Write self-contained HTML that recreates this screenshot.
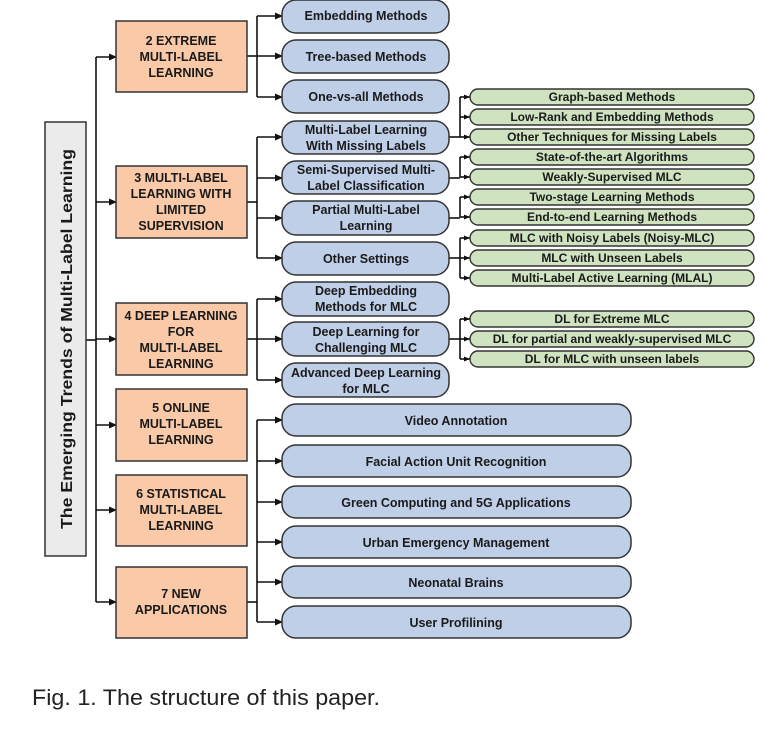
<!DOCTYPE html>
<html><head><meta charset="utf-8"><style>
html,body{margin:0;padding:0;background:#fff;}
svg{display:block;}
text{font-family:"Liberation Sans",Arial,sans-serif;font-weight:bold;fill:#1a1a1a;}
</style></head><body>
<svg width="764" height="731" viewBox="0 0 764 731" xmlns="http://www.w3.org/2000/svg">
<defs>
<marker id="a" markerWidth="8" markerHeight="8" refX="7" refY="4" orient="auto" markerUnits="userSpaceOnUse">
<path d="M0,0.5 L8,4 L0,7.5 z" fill="#111"/></marker>
<marker id="b" markerWidth="6" markerHeight="6" refX="6" refY="3" orient="auto" markerUnits="userSpaceOnUse">
<path d="M0,0.5 L6,3 L0,5.5 z" fill="#111"/></marker>
</defs>
<g stroke="#111" stroke-width="1.6" fill="none">
<!-- root -->
<line x1="86" y1="340" x2="96" y2="340"/>
<line x1="96" y1="57" x2="96" y2="602"/>
<line x1="96" y1="57" x2="116" y2="57" marker-end="url(#a)"/>
<line x1="96" y1="202" x2="116" y2="202" marker-end="url(#a)"/>
<line x1="96" y1="339" x2="116" y2="339" marker-end="url(#a)"/>
<line x1="96" y1="425" x2="116" y2="425" marker-end="url(#a)"/>
<line x1="96" y1="510" x2="116" y2="510" marker-end="url(#a)"/>
<line x1="96" y1="602" x2="116" y2="602" marker-end="url(#a)"/>
<!-- sec2 -->
<line x1="247" y1="56" x2="257" y2="56"/>
<line x1="257" y1="16" x2="257" y2="97"/>
<line x1="257" y1="16" x2="282" y2="16" marker-end="url(#a)"/>
<line x1="257" y1="56" x2="282" y2="56" marker-end="url(#a)"/>
<line x1="257" y1="97" x2="282" y2="97" marker-end="url(#a)"/>
<!-- sec3 -->
<line x1="247" y1="202" x2="257" y2="202"/>
<line x1="257" y1="137" x2="257" y2="258"/>
<line x1="257" y1="137" x2="282" y2="137" marker-end="url(#a)"/>
<line x1="257" y1="178" x2="282" y2="178" marker-end="url(#a)"/>
<line x1="257" y1="218" x2="282" y2="218" marker-end="url(#a)"/>
<line x1="257" y1="258" x2="282" y2="258" marker-end="url(#a)"/>
<!-- sec4 -->
<line x1="247" y1="339" x2="257" y2="339"/>
<line x1="257" y1="299" x2="257" y2="380"/>
<line x1="257" y1="299" x2="282" y2="299" marker-end="url(#a)"/>
<line x1="257" y1="339" x2="282" y2="339" marker-end="url(#a)"/>
<line x1="257" y1="380" x2="282" y2="380" marker-end="url(#a)"/>
<!-- sec7 -->
<line x1="247" y1="602" x2="257" y2="602"/>
<line x1="257" y1="420" x2="257" y2="622"/>
<line x1="257" y1="420" x2="282" y2="420" marker-end="url(#a)"/>
<line x1="257" y1="461" x2="282" y2="461" marker-end="url(#a)"/>
<line x1="257" y1="502" x2="282" y2="502" marker-end="url(#a)"/>
<line x1="257" y1="542" x2="282" y2="542" marker-end="url(#a)"/>
<line x1="257" y1="582" x2="282" y2="582" marker-end="url(#a)"/>
<line x1="257" y1="622" x2="282" y2="622" marker-end="url(#a)"/>
<!-- green connectors -->
<line x1="449" y1="137" x2="460" y2="137"/>
<line x1="460" y1="97" x2="460" y2="137"/>
<line x1="460" y1="97" x2="470" y2="97" marker-end="url(#b)"/>
<line x1="460" y1="117" x2="470" y2="117" marker-end="url(#b)"/>
<line x1="460" y1="137" x2="470" y2="137" marker-end="url(#b)"/>
<line x1="449" y1="178" x2="460" y2="178"/>
<line x1="460" y1="157" x2="460" y2="177"/>
<line x1="460" y1="157" x2="470" y2="157" marker-end="url(#b)"/>
<line x1="460" y1="177" x2="470" y2="177" marker-end="url(#b)"/>
<line x1="449" y1="218" x2="460" y2="218"/>
<line x1="460" y1="197" x2="460" y2="217"/>
<line x1="460" y1="197" x2="470" y2="197" marker-end="url(#b)"/>
<line x1="460" y1="217" x2="470" y2="217" marker-end="url(#b)"/>
<line x1="449" y1="258" x2="460" y2="258"/>
<line x1="460" y1="238" x2="460" y2="278"/>
<line x1="460" y1="238" x2="470" y2="238" marker-end="url(#b)"/>
<line x1="460" y1="258" x2="470" y2="258" marker-end="url(#b)"/>
<line x1="460" y1="278" x2="470" y2="278" marker-end="url(#b)"/>
<line x1="449" y1="339" x2="460" y2="339"/>
<line x1="460" y1="319" x2="460" y2="359"/>
<line x1="460" y1="319" x2="470" y2="319" marker-end="url(#b)"/>
<line x1="460" y1="339" x2="470" y2="339" marker-end="url(#b)"/>
<line x1="460" y1="359" x2="470" y2="359" marker-end="url(#b)"/>
</g>
<!-- root box -->
<rect x="45" y="122" width="41" height="434" fill="#ebebeb" stroke="#333" stroke-width="1.5"/>
<text transform="translate(72,339) rotate(-90)" text-anchor="middle" font-size="16" textLength="380" lengthAdjust="spacingAndGlyphs">The Emerging Trends of Multi-Label Learning</text>
<!-- orange -->
<g fill="#f9c9a8" stroke="#333" stroke-width="1.5">
<rect x="116" y="21" width="131" height="71"/>
<rect x="116" y="166" width="131" height="72"/>
<rect x="116" y="303" width="131" height="72"/>
<rect x="116" y="389" width="131" height="72"/>
<rect x="116" y="475" width="131" height="71"/>
<rect x="116" y="567" width="131" height="71"/>
</g>
<g font-size="12.5" text-anchor="middle">
<text x="181" y="45">2 EXTREME</text><text x="181" y="61">MULTI-LABEL</text><text x="181" y="77">LEARNING</text>
<text x="181" y="182">3 MULTI-LABEL</text><text x="181" y="198">LEARNING WITH</text><text x="181" y="214">LIMITED</text><text x="181" y="230">SUPERVISION</text>
<text x="181" y="320">4 DEEP LEARNING</text><text x="181" y="336">FOR</text><text x="181" y="352">MULTI-LABEL</text><text x="181" y="368">LEARNING</text>
<text x="181" y="412">5 ONLINE</text><text x="181" y="428">MULTI-LABEL</text><text x="181" y="444">LEARNING</text>
<text x="181" y="498">6 STATISTICAL</text><text x="181" y="514">MULTI-LABEL</text><text x="181" y="530">LEARNING</text>
<text x="181" y="598">7 NEW</text><text x="181" y="614">APPLICATIONS</text>
</g>
<!-- blue -->
<g fill="#c0cfe8" stroke="#333" stroke-width="1.5">
<rect x="282" y="0" width="167" height="33" rx="14"/>
<rect x="282" y="40" width="167" height="33" rx="14"/>
<rect x="282" y="80" width="167" height="33" rx="14"/>
<rect x="282" y="121" width="167" height="33" rx="14"/>
<rect x="282" y="161" width="167" height="33" rx="14"/>
<rect x="282" y="201" width="167" height="34" rx="14"/>
<rect x="282" y="242" width="167" height="33" rx="14"/>
<rect x="282" y="282" width="167" height="34" rx="14"/>
<rect x="282" y="322" width="167" height="34" rx="14"/>
<rect x="282" y="363" width="167" height="34" rx="14"/>
<rect x="282" y="404" width="349" height="32" rx="14"/>
<rect x="282" y="445" width="349" height="32" rx="14"/>
<rect x="282" y="486" width="349" height="32" rx="14"/>
<rect x="282" y="526" width="349" height="32" rx="14"/>
<rect x="282" y="566" width="349" height="32" rx="14"/>
<rect x="282" y="606" width="349" height="32" rx="14"/>
</g>
<g font-size="12.5" text-anchor="middle">
<text x="366" y="20">Embedding Methods</text>
<text x="366" y="61">Tree-based Methods</text>
<text x="366" y="101">One-vs-all Methods</text>
<text x="366" y="134">Multi-Label Learning</text><text x="366" y="150">With Missing Labels</text>
<text x="366" y="174">Semi-Supervised Multi-</text><text x="366" y="190">Label Classification</text>
<text x="366" y="214">Partial Multi-Label</text><text x="366" y="230">Learning</text>
<text x="366" y="263">Other Settings</text>
<text x="366" y="295">Deep Embedding</text><text x="366" y="311">Methods for MLC</text>
<text x="366" y="336">Deep Learning for</text><text x="366" y="352">Challenging MLC</text>
<text x="366" y="377">Advanced Deep Learning</text><text x="366" y="393">for MLC</text>
<text x="456" y="425">Video Annotation</text>
<text x="456" y="466">Facial Action Unit Recognition</text>
<text x="456" y="507">Green Computing and 5G Applications</text>
<text x="456" y="547">Urban Emergency Management</text>
<text x="456" y="587">Neonatal Brains</text>
<text x="456" y="627">User Profilining</text>
</g>
<!-- green -->
<g fill="#cfe3c0" stroke="#333" stroke-width="1.4">
<rect x="470" y="89" width="284" height="16" rx="8"/>
<rect x="470" y="109" width="284" height="16" rx="8"/>
<rect x="470" y="129" width="284" height="16" rx="8"/>
<rect x="470" y="149" width="284" height="16" rx="8"/>
<rect x="470" y="169" width="284" height="16" rx="8"/>
<rect x="470" y="189" width="284" height="16" rx="8"/>
<rect x="470" y="209" width="284" height="16" rx="8"/>
<rect x="470" y="230" width="284" height="16" rx="8"/>
<rect x="470" y="250" width="284" height="16" rx="8"/>
<rect x="470" y="270" width="284" height="16" rx="8"/>
<rect x="470" y="311" width="284" height="16" rx="8"/>
<rect x="470" y="331" width="284" height="16" rx="8"/>
<rect x="470" y="351" width="284" height="16" rx="8"/>
</g>
<g font-size="12" text-anchor="middle">
<text x="612" y="101">Graph-based Methods</text>
<text x="612" y="121">Low-Rank and Embedding Methods</text>
<text x="612" y="141">Other Techniques for Missing Labels</text>
<text x="612" y="161">State-of-the-art Algorithms</text>
<text x="612" y="181">Weakly-Supervised MLC</text>
<text x="612" y="201">Two-stage Learning Methods</text>
<text x="612" y="221">End-to-end Learning Methods</text>
<text x="612" y="242">MLC with Noisy Labels (Noisy-MLC)</text>
<text x="612" y="262">MLC with Unseen Labels</text>
<text x="612" y="282">Multi-Label Active Learning (MLAL)</text>
<text x="612" y="323">DL for Extreme MLC</text>
<text x="612" y="343">DL for partial and weakly-supervised MLC</text>
<text x="612" y="363">DL for MLC with unseen labels</text>
</g>
<text x="32" y="705" font-size="22" style="font-weight:normal;fill:#222" textLength="348" lengthAdjust="spacingAndGlyphs">Fig. 1. The structure of this paper.</text>
</svg>
</body></html>
